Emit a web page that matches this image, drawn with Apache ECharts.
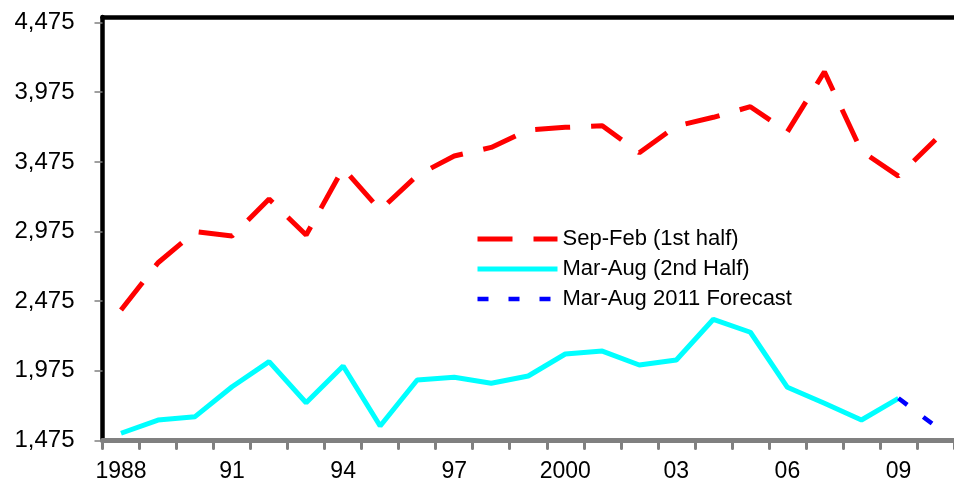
<!DOCTYPE html>
<html>
<head>
<meta charset="utf-8">
<script src="https://cdn.jsdelivr.net/npm/echarts@6/dist/echarts.min.js"></script>
<style>
  html, body { margin: 0; padding: 0; background: #fff; }
  #chart { width: 954px; height: 484px; }
</style>
</head>
<body>
<div id="chart"></div>
<script>
// Season years (category labels, shown every third year)
const years = ['1988', '89', '90', '91', '92', '93', '94', '95', '96', '97', '98', '99',
               '2000', '01', '02', '03', '04', '05', '06', '07', '08', '09', '10'];

// Sep-Feb (1st half)
const firstHalf = [2412, 2751, 2974, 2943, 3208, 2950, 3429, 3129, 3378, 3517, 3579, 3703,
                   3723, 3734, 3541, 3732, 3795, 3871, 3691, 4122, 3553, 3373, 3634];

// Mar-Aug (2nd Half)
const secondHalf = [1527, 1622, 1646, 1861, 2041, 1746, 2010, 1579, 1909, 1929, 1886, 1938,
                    2096, 2117, 2017, 2053, 2345, 2252, 1857, 1742, 1622, 1778, null];

// Mar-Aug 2011 Forecast (continues from the last actual value)
const forecast = [null, null, null, null, null, null, null, null, null, null, null, null,
                  null, null, null, null, null, null, null, null, null, 1778, 1578];

// Value-axis tick labels
const yTicks = [1475, 1975, 2475, 2975, 3475, 3975, 4475];

const FONT = '"Liberation Sans", Arial, Helvetica, sans-serif';

const chart = echarts.init(document.getElementById('chart'), null, { renderer: 'canvas' });

chart.setOption({
  backgroundColor: '#ffffff',
  animation: false,
  grid: { left: 102.5, top: 17, width: 858, height: 423.5, containLabel: false },
  legend: {
    orient: 'vertical',
    left: 475,
    top: 227,
    padding: 0,
    itemWidth: 80,
    itemHeight: 14,
    itemGap: 6,
    itemStyle: { opacity: 0 },
    lineStyle: { width: 5 },
    textStyle: { fontFamily: FONT, fontSize: 22, color: '#000', lineHeight: 24 },
    data: [
      { name: 'Sep-Feb (1st half)' },
      { name: 'Mar-Aug (2nd Half)' },
      { name: 'Mar-Aug 2011 Forecast', lineStyle: { width: 4.5 } }
    ]
  },
  xAxis: [
    {
      type: 'category',
      data: years,
      boundaryGap: true,
      axisLine: { show: true, lineStyle: { color: '#808080', width: 5 } },
      axisTick: { show: true, interval: 0, length: 8, lineStyle: { color: '#808080', width: 3, cap: 'round' } },
      axisLabel: { interval: 2, margin: 20, fontFamily: FONT, fontSize: 23, color: '#000' },
      splitLine: { show: false }
    },
    {
      // top frame line
      type: 'category',
      data: years,
      position: 'top',
      axisLine: { show: true, lineStyle: { color: '#000', width: 4.5 } },
      axisTick: { show: false },
      axisLabel: { show: false },
      splitLine: { show: false }
    }
  ],
  yAxis: {
    type: 'value',
    min: 1475,
    max: 4515,
    axisLine: { show: true, lineStyle: { color: '#000', width: 4.5 } },
    axisTick: { show: true, customValues: yTicks, length: 8, lineStyle: { color: '#808080', width: 1.5 } },
    axisLabel: {
      customValues: yTicks,
      margin: 28,
      fontFamily: FONT,
      fontSize: 24,
      color: '#000',
      formatter: v => v.toLocaleString('en-US')
    },
    splitLine: { show: false }
  },
  series: [
    {
      name: 'Sep-Feb (1st half)',
      type: 'line',
      data: firstHalf,
      symbol: 'none',
      lineStyle: { color: '#ff0000', width: 5, type: [35, 21] },
      itemStyle: { color: '#ff0000' },
      z: 3
    },
    {
      name: 'Mar-Aug (2nd Half)',
      type: 'line',
      data: secondHalf,
      symbol: 'none',
      lineStyle: { color: '#00ffff', width: 5 },
      itemStyle: { color: '#00ffff' },
      z: 2
    },
    {
      name: 'Mar-Aug 2011 Forecast',
      type: 'line',
      data: forecast,
      symbol: 'none',
      lineStyle: { color: '#0000ff', width: 4.5, type: [11, 20] },
      itemStyle: { color: '#0000ff' },
      z: 4
    }
  ]
});
</script>
</body>
</html>
